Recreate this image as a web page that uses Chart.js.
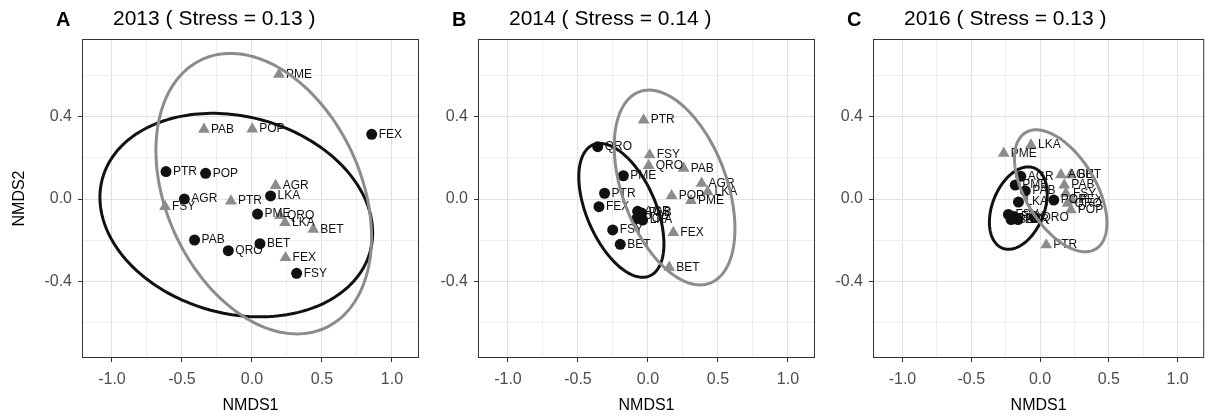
<!DOCTYPE html>
<html>
<head>
<meta charset="utf-8">
<script src="https://cdn.jsdelivr.net/npm/chart.js@4.4.0/dist/chart.umd.min.js"></script>
<style>
  body { margin: 0; background: #fff; width: 1211px; height: 418px; position: relative; overflow: hidden; }
  canvas { position: absolute; top: 0; }
</style>
</head>
<body>
<canvas id="panelA" width="440" height="418" style="left:0px"></canvas>
<canvas id="panelB" width="395" height="418" style="left:440px"></canvas>
<canvas id="panelC" width="376" height="418" style="left:835px"></canvas>
<script>
// panels
var letters = ["A", "B", "C"];
var years = ["2013", "2014", "2016"];
var stress = ["0.13", "0.14", "0.13"];

// axis ticks (major ones get a label)
var xMajor = [-1.0, -0.5, 0.0, 0.5, 1.0];
var yMajor = [-0.4, 0.0, 0.4];

// 2013 - black circles / grey triangles
var blackSp2013 = ["FEX", "PTR", "POP", "AGR", "LKA", "PME", "PAB", "QRO", "BET", "FSY"];
var blackX2013 = [0.855, -0.614, -0.331, -0.483, 0.133, 0.04, -0.41, -0.169, 0.057, 0.319];
var blackY2013 = [0.314, 0.133, 0.125, 0.0, 0.015, -0.073, -0.199, -0.251, -0.217, -0.361];
var greySp2013 = ["PME", "PAB", "POP", "AGR", "PTR", "FSY", "QRO", "LKA", "BET", "FEX"];
var greyX2013 = [0.193, -0.343, 0.002, 0.169, -0.15, -0.621, 0.2, 0.236, 0.438, 0.24];
var greyY2013 = [0.605, 0.338, 0.34, 0.065, -0.01, -0.037, -0.081, -0.115, -0.147, -0.285];

// 2014
var blackSp2014 = ["QRO", "PME", "PTR", "FEX", "AGR", "PAB", "LKA", "POP", "FSY", "BET"];
var blackX2014 = [-0.359, -0.176, -0.31, -0.35, -0.074, -0.045, -0.038, -0.08, -0.252, -0.198];
var blackY2014 = [0.254, 0.113, 0.028, -0.037, -0.06, -0.068, -0.102, -0.095, -0.15, -0.22];
var greySp2014 = ["PTR", "FSY", "QRO", "PAB", "AGR", "LKA", "POP", "PME", "FEX", "BET"];
var greyX2014 = [-0.031, 0.012, 0.005, 0.255, 0.383, 0.426, 0.169, 0.307, 0.181, 0.152];
var greyY2014 = [0.383, 0.214, 0.162, 0.149, 0.076, 0.035, 0.016, -0.008, -0.163, -0.332];

// 2016
var blackSp2016 = ["AGR", "PME", "PAB", "LKA", "POP", "QRO", "FEX", "FSY", "BET", "PTR"];
var blackX2016 = [-0.14, -0.18, -0.107, -0.157, 0.1, -0.04, -0.19, -0.23, -0.21, -0.16];
var blackY2016 = [0.11, 0.068, 0.04, -0.015, -0.005, -0.09, -0.085, -0.075, -0.1, -0.1];
var greySp2016 = ["PME", "LKA", "AGR", "BET", "PAB", "FSY", "FEX", "QRO", "POP", "PTR"];
var greyX2016 = [-0.264, -0.066, 0.152, 0.224, 0.176, 0.188, 0.236, 0.2, 0.224, 0.045];
var greyY2016 = [0.222, 0.262, 0.117, 0.117, 0.068, 0.028, -0.005, -0.021, -0.053, -0.223];

// ellipses: centre x, centre y, half width, half height, phase (deg)
var ellBlack2013 = [-0.112, -0.078, 0.974, 0.494, 100];
var ellGrey2013 = [0.084, 0.026, 0.77, 0.681, 108];
var ellBlack2014 = [-0.19, -0.055, 0.304, 0.325, 120];
var ellGrey2014 = [0.19, 0.056, 0.431, 0.473, 115];
var ellBlack2016 = [-0.158, -0.044, 0.21, 0.2, 70];
var ellGrey2016 = [0.15, 0.04, 0.336, 0.296, 122];

var FONT = "'Liberation Sans', Arial, sans-serif";
var BLACK = "#111111";
var GREY = "#8c8c8c";

function isMajor(v, list) {
  return list.some(function (m) { return Math.abs(v - m) < 1e-6; });
}

function drawEllipse(chart, e, color) {
  var xs = chart.scales.x, ys = chart.scales.y, ctx = chart.ctx;
  var ph = e[4] * Math.PI / 180;
  ctx.save();
  ctx.beginPath();
  for (var k = 0; k <= 200; k++) {
    var t = k / 200 * 2 * Math.PI;
    var px = xs.getPixelForValue(e[0] + e[2] * Math.cos(t));
    var py = ys.getPixelForValue(e[1] + e[3] * Math.cos(t - ph));
    if (k == 0) ctx.moveTo(px, py); else ctx.lineTo(px, py);
  }
  ctx.closePath();
  ctx.lineWidth = 3;
  ctx.strokeStyle = color;
  ctx.stroke();
  ctx.restore();
}

// labels, ellipses, border and the panel titles
var nmdsPlugin = {
  id: "nmds",
  afterDatasetsDraw: function (chart) {
    var ctx = chart.ctx;
    var o = chart.options.plugins.nmds;
    ctx.save();
    ctx.font = "12px " + FONT;
    ctx.fillStyle = "#111";
    ctx.textBaseline = "middle";
    ctx.textAlign = "left";
    chart.data.datasets.forEach(function (ds, di) {
      chart.getDatasetMeta(di).data.forEach(function (pt, i) {
        ctx.fillText(ds.names[i], pt.x + 7, pt.y);
      });
    });
    ctx.restore();
    drawEllipse(chart, o.ellBlack, BLACK);
    drawEllipse(chart, o.ellGrey, GREY);
    var a = chart.chartArea;
    ctx.save();
    ctx.strokeStyle = "#333";
    ctx.lineWidth = 1;
    ctx.strokeRect(a.left + 0.5, a.top + 0.5, a.right - a.left - 1, a.bottom - a.top - 1);
    ctx.restore();
  },
  afterDraw: function (chart) {
    var ctx = chart.ctx;
    var o = chart.options.plugins.nmds;
    var a = chart.chartArea;
    ctx.save();
    ctx.fillStyle = "#000";
    ctx.textBaseline = "middle";
    ctx.font = "bold 20px " + FONT;
    ctx.fillText(o.letter, a.left - 26, 20);
    ctx.font = "21px " + FONT;
    ctx.fillText(o.title, a.left + 31, 19);
    ctx.restore();
  }
};

function makePanel(id, p, bSp, bX, bY, gSp, gX, gY, eB, eG, yWidth, padRight) {
  var blackPts = bX.map(function (x, i) { return { x: x, y: bY[i] }; });
  var greyPts = gX.map(function (x, i) { return { x: x, y: gY[i] }; });
  return new Chart(document.getElementById(id), {
    type: "scatter",
    data: {
      datasets: [{
        label: "black",
        data: blackPts,
        names: bSp,
        pointStyle: "circle",
        pointRadius: 5.5,
        backgroundColor: BLACK,
        borderColor: BLACK,
        borderWidth: 0
      }, {
        label: "grey",
        data: greyPts,
        names: gSp,
        pointStyle: "triangle",
        pointRadius: 6.8,
        backgroundColor: GREY,
        borderColor: GREY,
        borderWidth: 0
      }]
    },
    options: {
      responsive: false,
      animation: false,
      devicePixelRatio: 1,
      layout: { padding: { top: 39, right: padRight, left: 0, bottom: 0 } },
      plugins: {
        legend: { display: false },
        tooltip: { enabled: false },
        nmds: { letter: letters[p], title: years[p] + " ( Stress = " + stress[p] + " )", ellBlack: eB, ellGrey: eG }
      },
      scales: {
        x: {
          type: "linear",
          min: -1.214,
          max: 1.193,
          border: { display: false },
          grid: {
            color: function (c) { return isMajor(c.tick.value, xMajor) ? "#e0e0e0" : "#eeeeee"; },
            tickColor: function (c) { return isMajor(c.tick.value, xMajor) ? "#333" : "rgba(0,0,0,0)"; },
            tickLength: 4
          },
          ticks: {
            stepSize: 0.25,
            includeBounds: false,
            autoSkip: false,
            maxRotation: 0,
            padding: 8,
            color: "#4d4d4d",
            font: { family: FONT, size: 16 },
            callback: function (v) { return isMajor(v, xMajor) ? v.toFixed(1) : ""; }
          },
          title: { display: true, text: "NMDS1", color: "#000", font: { family: FONT, size: 16 }, padding: { top: 0, bottom: 3 } },
          afterFit: function (s) { s.height = 60; }
        },
        y: {
          type: "linear",
          min: -0.772,
          max: 0.777,
          border: { display: false },
          grid: {
            color: function (c) { return isMajor(c.tick.value, yMajor) ? "#e0e0e0" : "#eeeeee"; },
            tickColor: function (c) { return isMajor(c.tick.value, yMajor) ? "#333" : "rgba(0,0,0,0)"; },
            tickLength: 4
          },
          ticks: {
            stepSize: 0.2,
            includeBounds: false,
            autoSkip: false,
            padding: 6,
            color: "#4d4d4d",
            font: { family: FONT, size: 16 },
            callback: function (v) { return isMajor(v, yMajor) ? v.toFixed(1) : ""; }
          },
          title: { display: p == 0, text: "NMDS2", color: "#000", font: { family: FONT, size: 16 }, padding: { top: 10, bottom: 0 } },
          afterFit: function (s) { s.width = yWidth; }
        }
      }
    },
    plugins: [nmdsPlugin]
  });
}

makePanel("panelA", 0, blackSp2013, blackX2013, blackY2013, greySp2013, greyX2013, greyY2013, ellBlack2013, ellGrey2013, 82, 21);
makePanel("panelB", 1, blackSp2014, blackX2014, blackY2014, greySp2014, greyX2014, greyY2014, ellBlack2014, ellGrey2014, 38, 20);
makePanel("panelC", 2, blackSp2016, blackX2016, blackY2016, greySp2016, greyX2016, greyY2016, ellBlack2016, ellGrey2016, 38, 1);
</script>
</body>
</html>
